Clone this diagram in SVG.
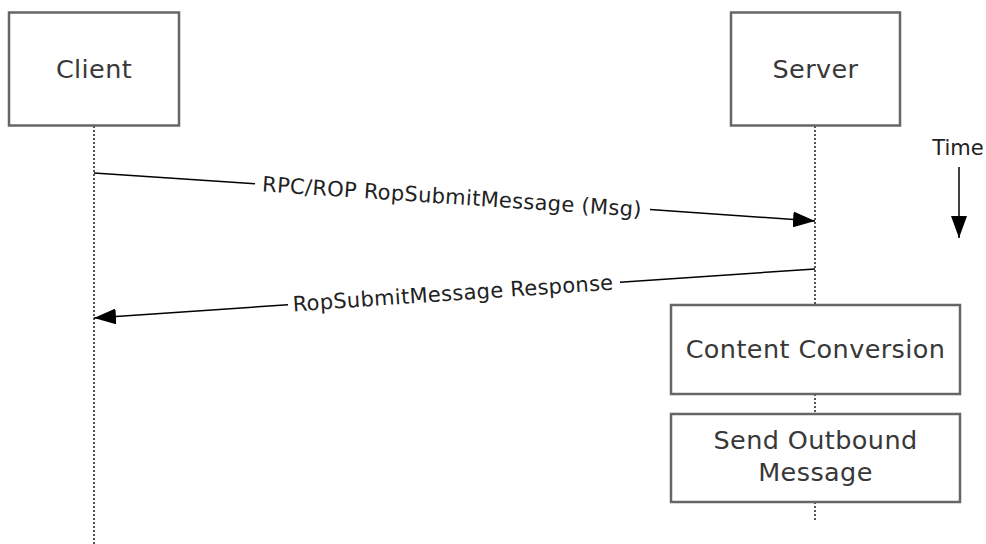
<svg xmlns="http://www.w3.org/2000/svg" width="986" height="544" viewBox="0 0 986 544">
<style>
.box{fill:#fff;stroke:#666;stroke-width:2.5}
.life{stroke:#555;stroke-width:2;stroke-dasharray:2,2;fill:none}
.msg{stroke:#000;stroke-width:1.5;fill:none}
.nt{font-family:"DejaVu Sans",Verdana,sans-serif;font-size:25.5px;letter-spacing:0.4px;fill:#383838;text-anchor:middle}
.lt{font-family:"DejaVu Sans",Verdana,sans-serif;font-size:21px;letter-spacing:0.3px;fill:#222;text-anchor:middle}
</style>
<defs>
<marker id="ah" viewBox="0 0 22 16" refX="22" refY="8" markerWidth="22" markerHeight="16" markerUnits="userSpaceOnUse" orient="auto">
<path d="M0,0 L22,8 L0,16 Z" fill="#000"/>
</marker>
</defs>
<g id="lifelines">
<line class="life" x1="94" y1="126" x2="94" y2="544"/>
<line class="life" x1="815" y1="126" x2="815" y2="520"/>
</g>
<g id="client">
<rect class="box" x="9" y="12.5" width="170" height="113"/>
<text class="nt" x="94" y="78">Client</text>
</g>
<g id="server">
<rect class="box" x="731" y="12.5" width="169" height="113"/>
<text class="nt" x="815.5" y="78">Server</text>
</g>
<g id="content-conversion">
<rect class="box" x="671" y="305" width="289" height="89"/>
<text class="nt" x="815.5" y="358">Content Conversion</text>
</g>
<g id="send-outbound">
<rect class="box" x="671" y="414" width="289" height="88"/>
<text class="nt" x="815.5" y="449">Send Outbound</text>
<text class="nt" x="815.5" y="481">Message</text>
</g>
<g id="connectors">
<line class="msg" x1="94" y1="173" x2="255" y2="183.7"/>
<line class="msg" x1="650" y1="209.4" x2="815" y2="221" marker-end="url(#ah)"/>
<line class="msg" x1="815" y1="269" x2="620" y2="282.3"/>
<line class="msg" x1="288" y1="304.8" x2="94" y2="318" marker-end="url(#ah)"/>
<line class="msg" x1="959" y1="167" x2="959" y2="238" marker-end="url(#ah)"/>
</g>
<g id="labels">
<text class="lt" transform="translate(452,197) rotate(3.81)" x="0" y="7">RPC/ROP RopSubmitMessage (Msg)</text>
<text class="lt" transform="translate(453,293.5) rotate(-3.89)" x="0" y="7">RopSubmitMessage Response</text>
<text class="lt" x="958" y="155" style="letter-spacing:0">Time</text>
</g>
</svg>
